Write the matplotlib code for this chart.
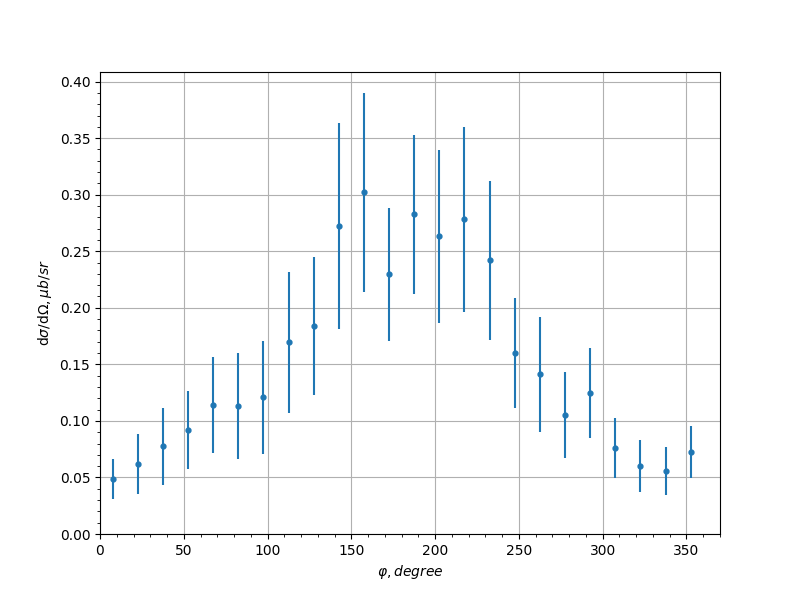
import matplotlib
matplotlib.use("Agg")
import matplotlib.pyplot as plt
from matplotlib.ticker import AutoMinorLocator

phi = [7.5, 22.5, 37.5, 52.5, 67.5, 82.5, 97.5, 112.5, 127.5, 142.5, 157.5, 172.5,
       187.5, 202.5, 217.5, 232.5, 247.5, 262.5, 277.5, 292.5, 307.5, 322.5, 337.5, 352.5]
xsec = [0.0486, 0.0618, 0.0777, 0.0918, 0.1139, 0.1130, 0.1210, 0.1695, 0.1837, 0.2720, 0.3020, 0.2296,
        0.2826, 0.2631, 0.2781, 0.2419, 0.1598, 0.1413, 0.1051, 0.1245, 0.0759, 0.0600, 0.0556, 0.0724]
err = [0.0177, 0.0265, 0.0340, 0.0344, 0.0424, 0.0470, 0.0500, 0.0625, 0.0610, 0.0910, 0.0880, 0.0590,
       0.0705, 0.0767, 0.0820, 0.0700, 0.0485, 0.0510, 0.0380, 0.0400, 0.0268, 0.0230, 0.0215, 0.0228]

fig, ax = plt.subplots(figsize=(8, 6), dpi=100)
ax.errorbar(phi, xsec, yerr=err, fmt='o', ms=3.5, color='#1f77b4', elinewidth=1.5)
ax.set_xlim(0, 370)
ax.set_ylim(0, 0.4085)
ax.xaxis.set_minor_locator(AutoMinorLocator(5))
ax.yaxis.set_minor_locator(AutoMinorLocator(5))
ax.grid(True, which='major')
ax.set_xlabel(r'$\varphi, degree$')
ax.set_ylabel(r'd$\sigma$/d$\Omega, \mu b/sr$')
fig.savefig('out.png', dpi=100)
